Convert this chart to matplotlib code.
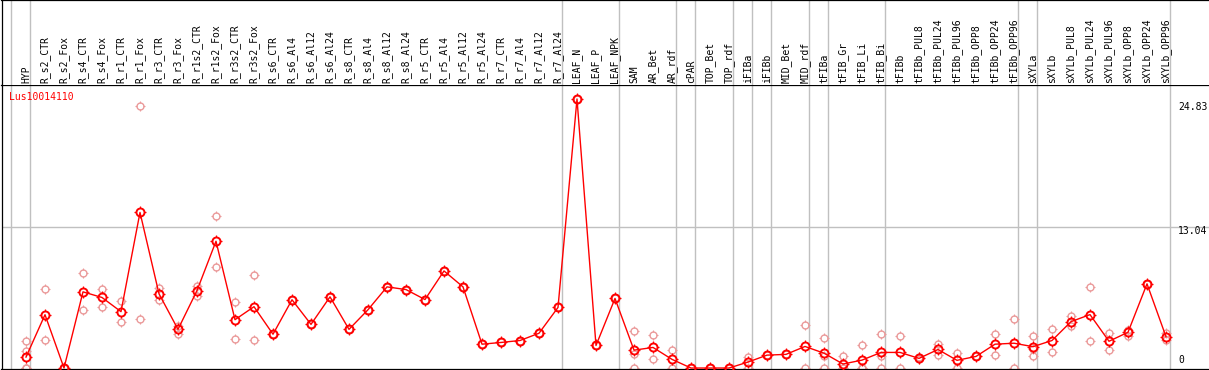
import matplotlib
matplotlib.use('Agg')
import matplotlib.pyplot as plt
import numpy as np
from matplotlib.path import Path

# category names (in plotting order)
samples = [
    'HYP', 'R_s2_CTR', 'R_s2_Fox', 'R_s4_CTR', 'R_s4_Fox', 'R_r1_CTR', 'R_r1_Fox',
    'R_r3_CTR', 'R_r3_Fox', 'R_r1s2_CTR', 'R_r1s2_Fox', 'R_r3s2_CTR', 'R_r3s2_Fox',
    'R_s6_CTR', 'R_s6_Al4', 'R_s6_Al12', 'R_s6_Al24', 'R_s8_CTR', 'R_s8_Al4',
    'R_s8_Al12', 'R_s8_Al24', 'R_r5_CTR', 'R_r5_Al4', 'R_r5_Al12', 'R_r5_Al24',
    'R_r7_CTR', 'R_r7_Al4', 'R_r7_Al12', 'R_r7_Al24', 'LEAF_N', 'LEAF_P', 'LEAF_NPK',
    'SAM', 'AR_Bet', 'AR_rdf', 'cPAR', 'TOP_Bet', 'TOP_rdf', 'iFIBa', 'iFIBb',
    'MID_Bet', 'MID_rdf', 'tFIBa', 'tFIB_Gr', 'tFIB_Li', 'tFIB_Bi', 'tFIBb',
    'tFIBb_PUL8', 'tFIBb_PUL24', 'tFIBb_PUL96', 'tFIBb_OPP8', 'tFIBb_OPP24',
    'tFIBb_OPP96', 'sXYLa', 'sXYLb', 'sXYLb_PUL8', 'sXYLb_PUL24', 'sXYLb_PUL96',
    'sXYLb_OPP8', 'sXYLb_OPP24', 'sXYLb_OPP96',
]

# mean expression per sample
means = [
    1.01, 4.92, 0.0, 7.03, 6.51, 5.20, 14.36, 6.85, 3.57, 7.15, 11.70, 4.46, 5.66,
    3.12, 6.30, 4.03, 6.57, 3.57, 5.38, 7.49, 7.24, 6.32, 8.96, 7.49, 2.20,
    2.36, 2.54, 3.21, 5.59, 24.83, 2.08, 6.42,
    1.65, 1.90, 0.80, 0.0, 0.0, 0.0, 0.55, 1.19, 1.26, 1.99,
    1.37, 0.37, 0.73, 1.44, 1.44, 0.89, 1.71, 0.71, 1.07, 2.20, 2.29,
    1.97, 2.54, 4.28, 4.93, 2.47, 3.30, 7.77, 2.89,
]

# individual replicates per sample
replicates = [
    [2.45, 1.56, 0.0, 0.0], [7.31, 2.63], [0.0], [8.77, 5.38], [7.31, 5.66],
    [6.21, 4.24], [24.17, 4.56], [7.42, 6.32], [3.91, 3.14], [7.58, 6.66],
    [14.02, 9.32], [6.11, 2.72], [8.59, 2.63],
    [3.12], [6.30], [4.03], [6.57], [3.57], [5.38], [7.49], [7.24], [6.32],
    [8.96], [7.49], [2.20], [2.36], [2.54], [3.21], [5.59], [24.83], [2.08], [6.42],
    [3.46, 1.31, 0.0], [3.05, 0.82], [1.65, 0.0], [0.0], [0.0], [0.0],
    [1.01, 0.0], [1.16], [1.28], [3.97, 0.0],
    [2.81, 1.07, 0.0], [1.07, 0.0, 0.0], [2.08, 0.0, 0.0], [3.18, 1.13, 0.0],
    [2.93, 0.0], [0.98, 0.80], [2.23, 1.22], [1.37, 0.0], [1.07], [3.18, 1.19],
    [4.49, 0.0],
    [3.0, 1.77, 1.07], [3.64, 1.47], [4.79, 3.88], [7.49, 2.47], [3.27, 1.62],
    [3.51, 2.96], [7.77], [3.27, 2.59],
]

# index of the last sample in each group (separators drawn after them)
group_ends = [-1, 0, 28, 31, 34, 35, 37, 38, 39, 41, 42, 45, 52, 53, 60]

gene = 'Lus10014110'
y_marks = [24.83, 13.04, 0]

W, H = 1209, 370
head_h = 85
x0_px, step_px = 26, 19

# four little ticks that sit just outside the circle markers
ticks = Path([(0, 1), (0, 1.45), (0, -1), (0, -1.45), (1, 0), (1.45, 0), (-1, 0), (-1.45, 0)],
             [Path.MOVETO, Path.LINETO] * 4)

mono = 'DejaVu Sans Mono'
fig = plt.figure(figsize=(W / 100, H / 100), dpi=100)

left = 1.5 / W
ax = fig.add_axes([left, 1 / H, 1 - left, (H - head_h - 1) / H])
head = fig.add_axes([left, (H - head_h) / H, 1 - left, head_h / H], sharex=ax)

x = np.arange(len(samples))
ax.set_xlim((1.5 - x0_px) / step_px, (W - x0_px) / step_px)
ax.set_ylim(-0.09, 26.12)

for a in (ax, head):
    for g in group_ends:
        a.axvline(g + 0.23, color='#c0c0c0', lw=1.0, zorder=0)
    a.set_xticks([])
    a.set_yticks([])
    a.spines['right'].set_visible(False)
    for s in ('left', 'top', 'bottom'):
        a.spines[s].set_linewidth(0.9)
        a.spines[s].set_color('black')
head.spines['bottom'].set_visible(False)
head.set_ylim(0, 1)

ax.axhline(13.04, color='#c0c0c0', lw=1.0, zorder=0)

# replicates
rx = [i for i, r in enumerate(replicates) for _ in r]
ry = [v for r in replicates for v in r]
pale = '#eb9a9a'
ax.plot(rx, ry, linestyle='none', marker='o', ms=5.0, mfc='none', mec=pale,
        mew=1.0, zorder=2)
ax.plot(rx, ry, linestyle='none', marker=ticks, ms=7.2, mec=pale, mew=0.8, zorder=2)

# mean line
ax.plot(x, means, color='#ff0000', lw=1.0, marker='o', ms=5.8, mfc='none',
        mec='#ff0000', mew=1.4, zorder=3)
ax.plot(x, means, linestyle='none', marker=ticks, ms=8.4, mec='#ff0000', mew=0.9, zorder=3)

# sample labels in header
for i, name in enumerate(samples):
    head.text(i, 0.02, name, rotation=90, ha='center', va='bottom',
              fontsize=7, family=mono, color='black')

ax.text(0.0058, 0.958, gene, transform=ax.transAxes, ha='left', va='center',
        fontsize=7, family=mono, color='#ff0000')

offsets = [-5.8, -2.9, 5.8]
for val, off in zip(y_marks, offsets):
    ax.annotate(f'{val:g}', xy=(0.9745, val), xycoords=('axes fraction', 'data'),
                xytext=(0, off), textcoords='offset points', ha='left', va='center',
                fontsize=7, family=mono, color='black')

fig.savefig('out.png', dpi=100)
